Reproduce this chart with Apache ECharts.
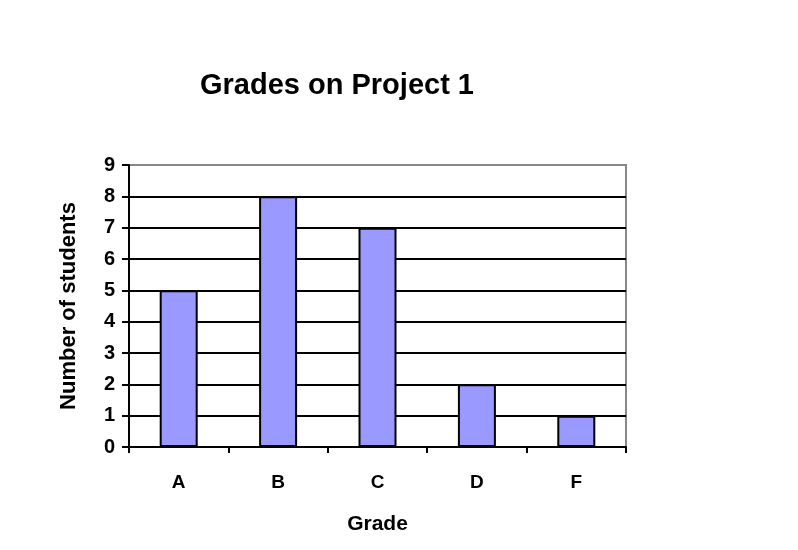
<!DOCTYPE html>
<html><head><meta charset="utf-8">
<script src="https://cdn.jsdelivr.net/npm/echarts@6/dist/echarts.min.js"></script>
<style>html,body{margin:0;padding:0;background:#fff}#c{width:798px;height:550px}</style>
</head><body><div id="c"></div>
<script>
var categories = ['A','B','C','D','F'];
var students = [5, 8, 7, 2, 1];
var chart = echarts.init(document.getElementById('c'), null, {renderer:'canvas'});
var F = 'Liberation Sans, Arial, sans-serif';
chart.setOption({
  animation:false,
  backgroundColor:'#fff',
  title:{text:'Grades on Project 1', left:332, top:66, textAlign:'center',
    textStyle:{fontFamily:F, fontSize:29, fontWeight:'bold', color:'#000'}},
  grid:{left:129, right:172, top:165, bottom:103, show:true, borderColor:'#888', borderWidth:2, backgroundColor:'#fff'},
  xAxis:{type:'category', data:categories,
    axisLine:{lineStyle:{color:'#000', width:2}},
    axisTick:{show:true, length:6, lineStyle:{color:'#000', width:2}},
    axisLabel:{fontFamily:F, fontSize:19, fontWeight:'bold', color:'#000', margin:26},
    name:'Grade', nameLocation:'middle', nameGap:67,
    nameTextStyle:{fontFamily:F, fontSize:21, fontWeight:'bold', color:'#000'}},
  yAxis:{type:'value', min:0, max:9, interval:1,
    axisLine:{show:true, lineStyle:{color:'#000', width:2}},
    axisTick:{show:true, length:7, lineStyle:{color:'#000', width:2}},
    splitLine:{show:true, showMaxLine:false, lineStyle:{color:'#000', width:2}},
    axisLabel:{fontFamily:F, fontSize:20, fontWeight:'bold', color:'#000', margin:14},
    name:'Number of students', nameLocation:'middle', nameGap:49,
    nameTextStyle:{fontFamily:F, fontSize:22, fontWeight:'bold', color:'#000'}},
  series:[{type:'bar', data:students, barWidth:38,
    itemStyle:{color:'#9999FF', borderColor:'#000', borderWidth:2}}]
});
</script></body></html>
